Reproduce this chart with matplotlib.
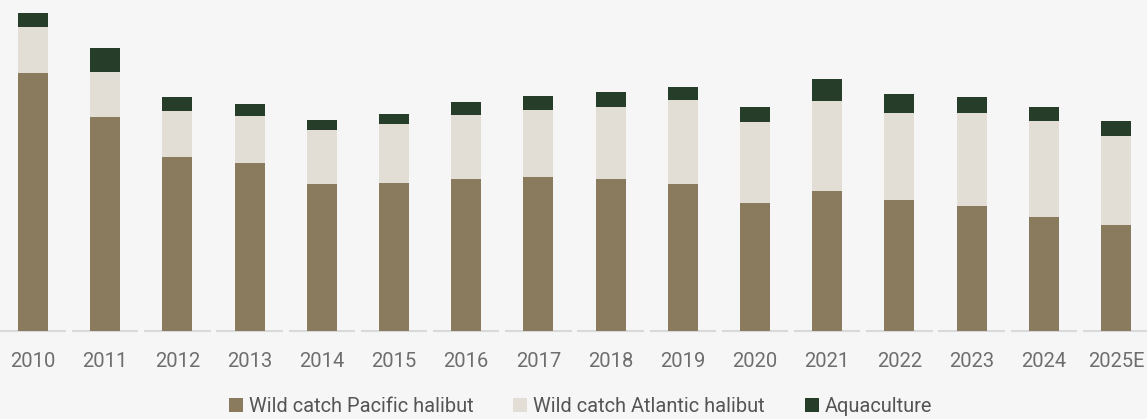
import matplotlib
matplotlib.use("Agg")
import matplotlib.pyplot as plt
from matplotlib.patches import Patch
import numpy as np

years = ["2010", "2011", "2012", "2013", "2014", "2015", "2016", "2017",
         "2018", "2019", "2020", "2021", "2022", "2023", "2024", "2025E"]
pacific = [258, 214, 174, 168, 147, 148, 152, 154, 152, 147, 128, 140, 131, 125, 114, 106]
atlantic = [46, 45, 46, 47, 54, 59, 64, 67, 72, 84, 81, 90, 87, 93, 96, 89]
aquaculture = [14, 24, 14, 12, 10, 10, 13, 14, 15, 13, 15, 22, 19, 16, 14, 15]
series_names = ["Wild catch Pacific halibut", "Wild catch Atlantic halibut", "Aquaculture"]
colors = ["#8A7B5F", "#E2DDD5", "#263D2A"]

bg = "#F6F6F6"
plt.rcParams["font.family"] = ["Roboto", "DejaVu Sans"]

W, H = 1147, 419
fig = plt.figure(figsize=(W / 100, H / 100), dpi=100, facecolor=bg)
ax = fig.add_axes([0, 88 / H, 1, 331 / H])
ax.set_facecolor(bg)

x = np.arange(len(years))
p = np.array(pacific)
a = np.array(atlantic)
q = np.array(aquaculture)
bw = 0.415
ax.bar(x, p, width=bw, color=colors[0], zorder=3)
ax.bar(x, a, width=bw, bottom=p, color=colors[1], zorder=3)
ax.bar(x, q, width=bw, bottom=p + a, color=colors[2], zorder=3)

# baseline segments
ax.hlines([0] * len(x), x - 0.46, x + 0.46, color="#D9D9D9", lw=1.5, zorder=2, clip_on=False)

spacing = 72.2
xmin = -33 / spacing
ax.set_xlim(xmin, xmin + W / spacing)
ax.set_ylim(0, 331)
for s in ax.spines.values():
    s.set_visible(False)
ax.set_yticks([])
ax.set_xticks(x)
ax.set_xticklabels(years, fontsize=14.5, color="#6E6E6E")
ax.tick_params(axis="x", length=0, pad=15)

handles = [Patch(facecolor=c, edgecolor="none") for c in colors]
fig.legend(handles, series_names, loc="lower center", bbox_to_anchor=(0.506, -0.035),
           ncol=3, frameon=False, fontsize=14.4, handlelength=0.7, handleheight=0.7,
           handletextpad=0.3, columnspacing=2.0, labelcolor="#555555")

fig.savefig("out.png", dpi=100, facecolor=bg)
